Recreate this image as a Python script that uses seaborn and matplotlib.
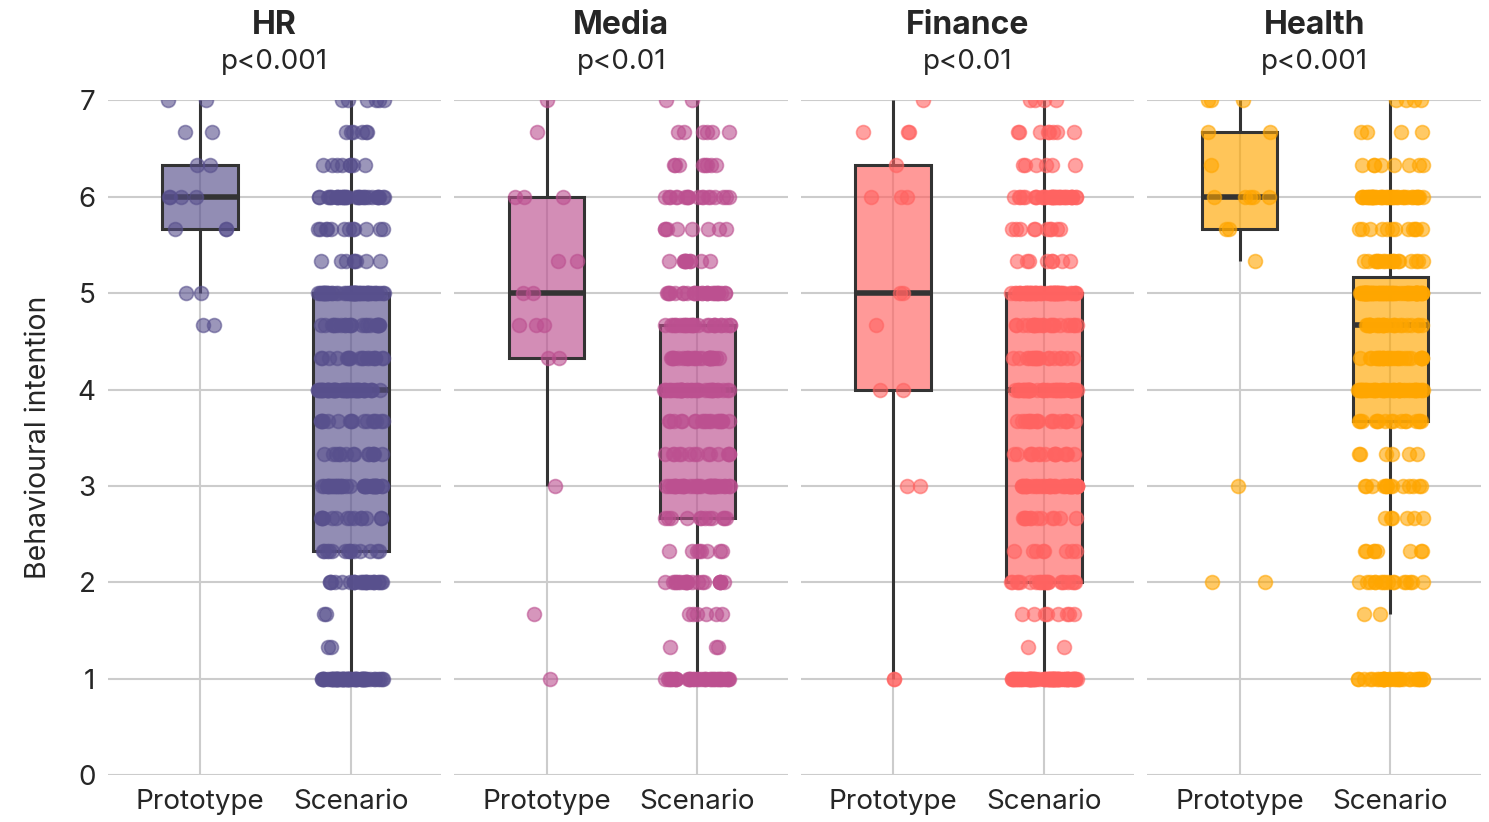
import numpy as np
import pandas as pd
import matplotlib
matplotlib.use('Agg')
from matplotlib import pyplot as plt
from matplotlib.colors import to_rgba
import seaborn as sns

domains = ['HR', 'Media', 'Finance', 'Health']
p_values = ['p<0.001', 'p<0.01', 'p<0.01', 'p<0.001']
colors = ['#58508d', '#bc5090', '#ff6361', '#ffa600']
conditions = ['Prototype', 'Scenario']

# prototype ratings (few respondents, read point by point)
hr_prototype = [4.67, 4.67, 5.0, 5.0, 5.67, 5.67, 5.67, 6.0, 6.0, 6.0, 6.0, 6.33, 6.33, 6.67, 6.67, 7.0, 7.0]
media_prototype = [1.0, 1.67, 3.0, 4.33, 4.33, 4.67, 4.67, 4.67, 5.0, 5.0, 5.33, 5.33, 6.0, 6.0, 6.0, 6.67, 7.0]
finance_prototype = [1.0, 1.0, 3.0, 3.0, 4.0, 4.0, 4.67, 5.0, 5.0, 6.0, 6.0, 6.0, 6.33, 6.67, 6.67, 6.67, 7.0]
health_prototype = [2.0, 2.0, 3.0, 5.33, 5.67, 5.67, 6.0, 6.0, 6.0, 6.0, 6.0, 6.33, 6.67, 6.67, 7.0, 7.0, 7.0]

# scenario ratings: how many respondents at each scale level
levels = [1.0, 1.33, 1.67, 2.0, 2.33, 2.67, 3.0, 3.33, 3.67, 4.0,
          4.33, 4.67, 5.0, 5.33, 5.67, 6.0, 6.33, 6.67, 7.0]
hr_scenario = [60, 2, 2, 24, 14, 14, 36, 14, 16, 48, 18, 22, 52, 8, 12, 32, 8, 6, 6]
media_scenario = [35, 3, 6, 20, 8, 12, 34, 14, 18, 36, 24, 26, 26, 10, 8, 18, 8, 6, 2]
finance_scenario = [70, 2, 8, 22, 8, 12, 36, 16, 18, 44, 18, 22, 50, 8, 10, 34, 6, 8, 4]
health_scenario = [30, 0, 2, 16, 8, 6, 14, 6, 16, 44, 26, 26, 63, 18, 12, 40, 8, 4, 4]

prototypes = [hr_prototype, media_prototype, finance_prototype, health_prototype]
scenarios = [hr_scenario, media_scenario, finance_scenario, health_scenario]

rows = []
for dom, proto, scen in zip(domains, prototypes, scenarios):
    for v in proto:
        rows.append((dom, 'Prototype', v))
    for v in np.repeat(levels, scen):
        rows.append((dom, 'Scenario', v))
df = pd.DataFrame(rows, columns=['domain', 'condition', 'rating'])

sns.set_theme(style='whitegrid', rc={'grid.color': '#cccccc', 'grid.linewidth': 1.5})
plt.rcParams['font.family'] = ['Inter', 'DejaVu Sans']

fig, axes = plt.subplots(1, 4, figsize=(14.89, 8.22), dpi=100, sharey=True)
fig.subplots_adjust(left=0.0725, right=0.9946, bottom=0.057, top=0.878, wspace=0.039)

np.random.seed(3)
for ax, dom, pv, col in zip(axes, domains, p_values, colors):
    d = df[df['domain'] == dom]
    sns.boxplot(data=d, x='condition', y='rating', order=conditions, color=col,
                saturation=1, width=0.5, showcaps=False, showfliers=False,
                linecolor='#333333', linewidth=2.2,
                medianprops={'linewidth': 4}, ax=ax)
    for patch in ax.patches:
        patch.set_facecolor(to_rgba(col, 0.65))
    sns.stripplot(data=d, x='condition', y='rating', order=conditions, color=col,
                  size=10, jitter=0.22, alpha=0.6, linewidth=1.2, edgecolor=col, ax=ax)
    ax.set_xlim(-0.61, 1.6)
    ax.set_ylim(0, 7)
    ax.set_yticks(range(8))
    ax.grid(True, axis='both')
    ax.set_axisbelow(True)
    ax.tick_params(length=0, labelsize=20)
    ax.tick_params(axis='x', pad=10)
    ax.tick_params(axis='y', pad=9)
    ax.set_xlabel('')
    ax.set_ylabel('')
    ax.text(0.5, 1.111, dom, transform=ax.transAxes, ha='center', va='center',
            fontsize=23, fontweight='bold')
    ax.text(0.5, 1.056, pv, transform=ax.transAxes, ha='center', va='center', fontsize=20)
    sns.despine(ax=ax, left=True, bottom=True)

axes[0].set_ylabel('Behavioural intention', fontsize=20.5, labelpad=18)

plt.savefig('out.png', dpi=100)
